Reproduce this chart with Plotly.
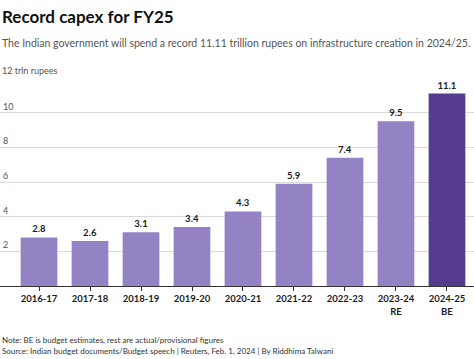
import plotly.graph_objects as go

categories = ["2016-17", "2017-18", "2018-19", "2019-20", "2020-21", "2021-22", "2022-23", "2023-24<br>RE", "2024-25<br>BE"]
values = [2.8, 2.6, 3.1, 3.4, 4.3, 5.9, 7.4, 9.5, 11.1]
value_labels = ["2.8", "2.6", "3.1", "3.4", "4.3", "5.9", "7.4", "9.5", "11.1"]
y_ticks = [0, 2, 4, 6, 8, 10, 12]
y_tick_labels = ["", "2", "4", "6", "8", "10", ""]
y_unit_label = "12 trln rupees"

light = "#9383c5"
dark = "#553b8f"
colors = [light] * (len(values) - 1) + [dark]

FONT = "Lato"
W, H = 474, 359
T, B = 78, 73

fig = go.Figure(go.Bar(
    x=list(range(len(categories))),
    y=values,
    marker=dict(color=colors, line=dict(width=0)),
    text=value_labels,
    textposition="outside",
    textfont=dict(family=FONT, size=9.5, color="#1a1a1a", weight="bold"),
    cliponaxis=False,
    width=0.72,
    hoverinfo="skip",
))


def py(p):
    return 1 - (p - T) / (H - T - B)


fig.update_layout(
    width=W, height=H,
    margin=dict(l=0, r=0, t=T, b=B),
    plot_bgcolor="white", paper_bgcolor="white",
    showlegend=False,
    font=dict(family=FONT),
    xaxis=dict(
        range=[-0.765, 8.53],
        tickmode="array",
        tickvals=list(range(len(categories))),
        ticktext=categories,
        tickfont=dict(family=FONT, size=9.5, color="#1a1a1a", weight="bold"),
        ticks="outside", ticklen=4, tickcolor="#333", tickwidth=1,
        showline=True, linecolor="#333", linewidth=1,
        showgrid=False, zeroline=False,
    ),
    yaxis=dict(
        range=[0, 12],
        tickmode="array",
        tickvals=y_ticks,
        ticktext=y_tick_labels,
        ticklabelposition="inside top",
        tickfont=dict(family=FONT, size=9, color="#555"),
        showgrid=True, gridcolor="#d9d9d9", gridwidth=1,
        zeroline=False, showline=False, ticks="",
    ),
    annotations=[
        dict(text="<b>Record capex for FY25</b>", x=0, y=py(17), xref="paper", yref="paper",
             showarrow=False, xanchor="left", yanchor="middle",
             font=dict(family=FONT, size=17, color="#111")),
        dict(text="The Indian government will spend a record 11.11 trillion rupees on infrastructure creation in 2024/25.",
             x=0, y=py(43), xref="paper", yref="paper", showarrow=False, xanchor="left", yanchor="middle",
             font=dict(family=FONT, size=10.5, color="#555")),
        dict(text=y_unit_label, x=0, y=py(71), xref="paper", yref="paper", showarrow=False,
             xanchor="left", yanchor="middle", font=dict(family=FONT, size=9, color="#555")),
        dict(text="Note: BE is budget estimates, rest are actual/provisional figures",
             x=0, y=py(340), xref="paper", yref="paper", showarrow=False, xanchor="left", yanchor="middle",
             font=dict(family=FONT, size=8, color="#333")),
        dict(text="Source: Indian budget documents/Budget speech | Reuters, Feb. 1, 2024 | By Riddhima Talwani",
             x=0, y=py(351), xref="paper", yref="paper", showarrow=False, xanchor="left", yanchor="middle",
             font=dict(family=FONT, size=8, color="#333")),
    ],
)

fig.write_html("out.html", config={"displayModeBar": False},
               post_script="document.body.style.margin='0';")
